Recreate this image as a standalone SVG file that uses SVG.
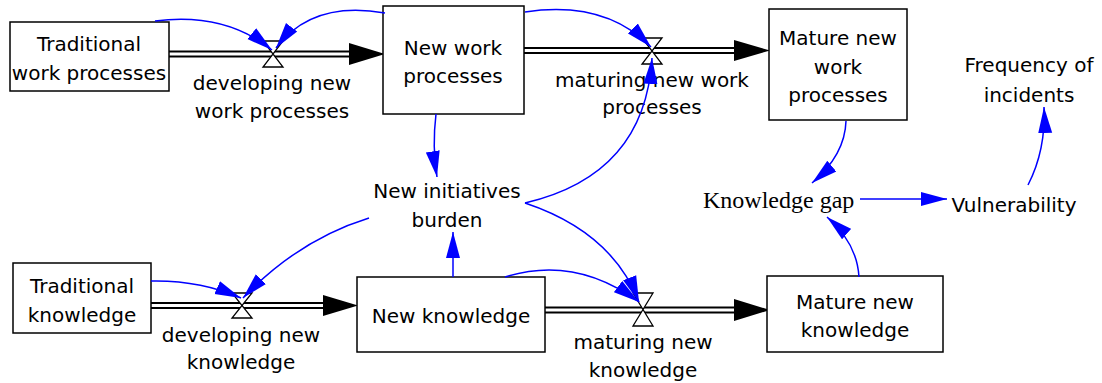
<svg xmlns="http://www.w3.org/2000/svg" width="1102" height="383" viewBox="0 0 1102 383">
<style>
.box{fill:#fff;stroke:#000;stroke-width:1.5}
.t{font-family:"DejaVu Sans",sans-serif;font-size:20px;fill:#000;text-anchor:middle}
.ts{font-family:"Liberation Serif",serif;font-size:24px;fill:#000}
.po{fill:none;stroke:#000;stroke-width:7}
.pi{fill:none;stroke:#fff;stroke-width:3}
.valve{fill:#fff;stroke:#000;stroke-width:1.3}
.ph{fill:#000}
.c{fill:none;stroke:#0000ff;stroke-width:1.5;marker-end:url(#ah)}
</style>
<defs>
<marker id="ah" markerUnits="userSpaceOnUse" markerWidth="28" markerHeight="16" refX="26" refY="8" orient="auto">
<path d="M0,1 L26,8 L0,15 Z" fill="#0000ff"/>
</marker>
</defs>
<g id="flows">
<path class="po" d="M169,54 L352,54"/><path class="pi" d="M169,54 L352,54"/>
<polygon class="ph" points="349,43 385,54 349,65"/>
<path class="po" d="M524,50.5 L737,50.5"/><path class="pi" d="M524,50.5 L737,50.5"/>
<polygon class="ph" points="734,40 770,50.5 734,61"/>
<path class="po" d="M151,305.5 L326,305.5"/><path class="pi" d="M151,305.5 L326,305.5"/>
<polygon class="ph" points="323,295 358,305.5 323,316"/>
<path class="po" d="M545,310 L737,310"/><path class="pi" d="M545,310 L737,310"/>
<polygon class="ph" points="734,299 770,310 734,321"/>
</g>
<g id="valve-developing-new-work-processes">
<path class="valve" d="M263,41 L283,41 L263,67 L283,67 Z"/>
<text class="t" x="272" y="90">developing new</text>
<text class="t" x="272" y="118">work processes</text>
</g>
<g id="valve-maturing-new-work-processes">
<path class="valve" d="M642,38 L662,38 L642,64 L662,64 Z"/>
<text class="t" x="652" y="87">maturing new work</text>
<text class="t" x="652" y="114">processes</text>
</g>
<g id="valve-developing-new-knowledge">
<path class="valve" d="M232,293 L252,293 L232,318 L252,318 Z"/>
<text class="t" x="241" y="342">developing new</text>
<text class="t" x="241" y="369">knowledge</text>
</g>
<g id="valve-maturing-new-knowledge">
<path class="valve" d="M633,293 L653,293 L633,326 L653,326 Z"/>
<text class="t" x="643" y="349">maturing new</text>
<text class="t" x="643" y="377">knowledge</text>
</g>
<g id="traditional-work-processes">
<rect class="box" x="10" y="22" width="159" height="69"/>
<text class="t" x="89" y="51">Traditional</text>
<text class="t" x="89" y="80">work processes</text>
</g>
<g id="new-work-processes">
<rect class="box" x="383" y="6" width="141" height="108"/>
<text class="t" x="453" y="55">New work</text>
<text class="t" x="453" y="83">processes</text>
</g>
<g id="mature-new-work-processes">
<rect class="box" x="769" y="9" width="138" height="111"/>
<text class="t" x="838" y="45">Mature new</text>
<text class="t" x="838" y="74">work</text>
<text class="t" x="838" y="102">processes</text>
</g>
<g id="frequency-of-incidents">
<text class="t" x="1029" y="72">Frequency of</text>
<text class="t" x="1029" y="102">incidents</text>
</g>
<g id="new-initiatives-burden">
<text class="t" x="447" y="198">New initiatives</text>
<text class="t" x="447" y="227">burden</text>
</g>
<g id="knowledge-gap">
<text class="ts" x="703" y="208">Knowledge gap</text>
</g>
<g id="vulnerability">
<text class="t" x="1014" y="212">Vulnerability</text>
</g>
<g id="traditional-knowledge">
<rect class="box" x="13" y="263" width="138" height="70"/>
<text class="t" x="82" y="293">Traditional</text>
<text class="t" x="82" y="322">knowledge</text>
</g>
<g id="new-knowledge">
<rect class="box" x="357" y="277" width="188" height="75"/>
<text class="t" x="451" y="323">New knowledge</text>
</g>
<g id="mature-new-knowledge">
<rect class="box" x="767" y="276" width="176" height="76"/>
<text class="t" x="855" y="309">Mature new</text>
<text class="t" x="855" y="337">knowledge</text>
</g>
<g id="connectors">
<path class="c" d="M155,21 Q225,12 272,50"/>
<path class="c" d="M385,13 Q312,0 276,48"/>
<path class="c" d="M525,12 Q605,0 651,47"/>
<path class="c" d="M436,114 Q432,147 437,177"/>
<path class="c" d="M453,277 L453,232"/>
<path class="c" d="M525,203 Q645,175 652,58"/>
<path class="c" d="M525,203 Q612,232 639,302"/>
<path class="c" d="M505,277 Q575,255 639,302"/>
<path class="c" d="M369,218 Q298,240 243,298"/>
<path class="c" d="M151,281 Q200,280 241,298"/>
<path class="c" d="M846,121 Q845,155 812,183"/>
<path class="c" d="M859,277 Q857,243 827,217"/>
<path class="c" d="M860,199 L947,199"/>
<path class="c" d="M1028,185 Q1046,150 1044,107"/>
</g>
</svg>
